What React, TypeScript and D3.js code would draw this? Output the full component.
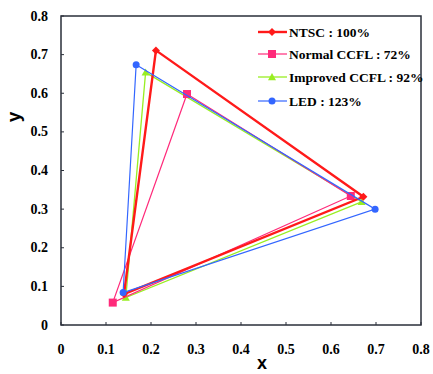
import React from "react";
import * as d3 from "d3";

const seriesNames = ["NTSC : 100%", "Normal CCFL : 72%", "Improved CCFL : 92%", "LED : 123%"];
const ntsc: [number, number][] = [[0.211, 0.711], [0.672, 0.332], [0.14, 0.08]];
const normalCcfl: [number, number][] = [[0.28, 0.598], [0.644, 0.334], [0.115, 0.058]];
const improvedCcfl: [number, number][] = [[0.188, 0.654], [0.668, 0.319], [0.144, 0.071]];
const led: [number, number][] = [[0.167, 0.674], [0.698, 0.3], [0.138, 0.084]];
const xTicks = [0, 0.1, 0.2, 0.3, 0.4, 0.5, 0.6, 0.7, 0.8];
const yTicks = [0, 0.1, 0.2, 0.3, 0.4, 0.5, 0.6, 0.7, 0.8];

const W = 433, H = 374;
const L = 61, R = 421, T = 16, B = 325;

type S = { name: string; data: [number, number][]; color: string; width: number; marker: string; size: number };

export default function App() {
  const x = d3.scaleLinear().domain([0, 0.8]).range([L, R]);
  const y = d3.scaleLinear().domain([0, 0.8]).range([B, T]);
  const series: S[] = [
    { name: seriesNames[2], data: improvedCcfl, color: "#99ee22", width: 1.3, marker: "tri", size: 4 },
    { name: seriesNames[1], data: normalCcfl, color: "#ff2a7a", width: 1.2, marker: "sq", size: 4 },
    { name: seriesNames[0], data: ntsc, color: "#ff1a1a", width: 2.4, marker: "dia", size: 4 },
    { name: seriesNames[3], data: led, color: "#3366ff", width: 1.2, marker: "circ", size: 3.5 },
  ];
  const line = d3.line<[number, number]>().x(d => x(d[0])).y(d => y(d[1])).curve(d3.curveLinearClosed);
  const marker = (s: S, cx: number, cy: number, k: string) => {
    const r = s.size;
    if (s.marker === "sq") return <rect key={k} x={cx - r} y={cy - r} width={2 * r} height={2 * r} fill={s.color} />;
    if (s.marker === "circ") return <circle key={k} cx={cx} cy={cy} r={r} fill={s.color} />;
    if (s.marker === "tri") return <path key={k} d={`M${cx},${cy - r}L${cx + r},${cy + r * 0.8}L${cx - r},${cy + r * 0.8}Z`} fill={s.color} />;
    return <path key={k} d={`M${cx},${cy - r}L${cx + r},${cy}L${cx},${cy + r}L${cx - r},${cy}Z`} fill={s.color} />;
  };
  const legendOrder = [2, 1, 0, 3];
  const legendY = [32, 54, 77, 101];
  const serif = { fontFamily: '"Liberation Serif", "Times New Roman", "DejaVu Serif", serif', fontWeight: 700 } as React.CSSProperties;
  const sans = { fontFamily: '"Liberation Sans", Arial, sans-serif', fontWeight: 700 } as React.CSSProperties;
  return (
    <svg width={W} height={H} style={{ position: "absolute", left: 0, top: 0, background: "#fff" }}>
      <rect x={L} y={T} width={R - L} height={B - T} fill="none" stroke="#2a2f3a" strokeWidth={1.5} />
      {xTicks.map((t, i) => (
        <g key={"xt" + i}>
          <line x1={x(t)} x2={x(t)} y1={B} y2={B - 3} stroke="#2a2f3a" />
          <text x={x(t)} y={354} textAnchor="middle" style={{ ...serif, fontSize: 14 }}>{String(t)}</text>
        </g>
      ))}
      {yTicks.map((t, i) => (
        <g key={"yt" + i}>
          <line x1={L} x2={L + 3} y1={y(t)} y2={y(t)} stroke="#2a2f3a" />
          <text x={48} y={y(t) + 4.5} textAnchor="end" style={{ ...serif, fontSize: 14 }}>{String(t)}</text>
        </g>
      ))}
      <text x={262} y={369} textAnchor="middle" style={{ ...sans, fontSize: 18 }}>x</text>
      <text transform="translate(20,117) rotate(-90)" textAnchor="middle" style={{ ...sans, fontSize: 19 }}>y</text>
      {series.map((s, i) => (
        <g key={"s" + i}>
          <path d={line(s.data) || ""} fill="none" stroke={s.color} strokeWidth={s.width} strokeLinejoin="miter" />
          {s.data.map((d, j) => marker(s, x(d[0]), y(d[1]), "m" + j))}
        </g>
      ))}
      {legendOrder.map((si, i) => {
        const s = series[si];
        const ly = legendY[i];
        return (
          <g key={"lg" + i}>
            <line x1={258} x2={287} y1={ly} y2={ly} stroke={s.color} strokeWidth={s.width} />
            {marker(s, 272, ly, "lm")}
            <text x={289} y={ly + 4.5} style={{ ...serif, fontSize: 13.5 }}>{s.name}</text>
          </g>
        );
      })}
    </svg>
  );
}
